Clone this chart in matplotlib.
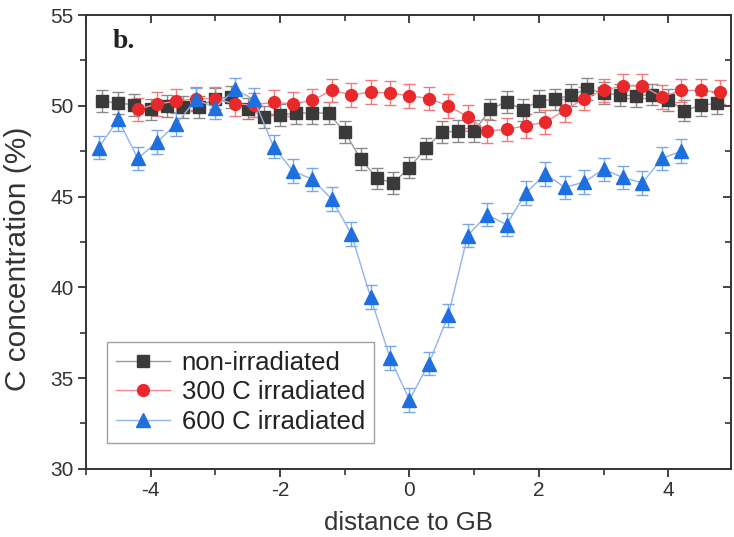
import numpy as np
import matplotlib
matplotlib.use("Agg")
import matplotlib.pyplot as plt
from matplotlib.ticker import MultipleLocator

# ---- data ----
x_non = [-4.75, -4.5, -4.25, -4.0, -3.75, -3.5, -3.25, -3.0, -2.75, -2.5, -2.25, -2.0, -1.75,
         -1.5, -1.25, -1.0, -0.75, -0.5, -0.25, 0.0, 0.25, 0.5, 0.75, 1.0, 1.25, 1.5, 1.75,
         2.0, 2.25, 2.5, 2.75, 3.0, 3.25, 3.5, 3.75, 4.0, 4.25, 4.5, 4.75]
y_non = [50.25, 50.15, 50.05, 49.8, 50.0, 49.95, 49.95, 50.4, 50.5, 49.85, 49.4, 49.5, 49.6,
         49.6, 49.6, 48.55, 47.05, 46.0, 45.75, 46.6, 47.65, 48.55, 48.6, 48.6, 49.8, 50.23, 49.78,
         50.27, 50.35, 50.6, 50.93, 50.7, 50.6, 50.55, 50.62, 50.32, 49.74, 50.02, 50.14]

x_300 = [-4.2, -3.9, -3.6, -3.3, -3.0, -2.7, -2.4, -2.1, -1.8, -1.5, -1.2, -0.9, -0.6, -0.3, 0.0,
         0.3, 0.6, 0.9, 1.2, 1.5, 1.8, 2.1, 2.4, 2.7, 3.0, 3.3, 3.6, 3.9, 4.2, 4.5, 4.8]
y_300 = [49.8, 50.1, 50.25, 50.4, 50.4, 50.1, 50.05, 50.2, 50.1, 50.3, 50.85, 50.6, 50.75, 50.7, 50.55,
         50.4, 50.0, 49.4, 48.6, 48.7, 48.9, 49.1, 49.75, 50.4, 50.85, 51.1, 51.1, 50.5, 50.85, 50.85, 50.75]

x_600 = [-4.8, -4.5, -4.2, -3.9, -3.6, -3.3, -3.0, -2.7, -2.4, -2.1, -1.8, -1.5, -1.2, -0.9, -0.6,
         -0.3, 0.0, 0.3, 0.6, 0.9, 1.2, 1.5, 1.8, 2.1, 2.4, 2.7, 3.0, 3.3, 3.6, 3.9, 4.2]
y_600 = [47.7, 49.25, 47.1, 48.0, 49.0, 50.35, 49.9, 50.9, 50.35, 47.75, 46.4, 45.95, 44.85, 42.95, 39.45,
         36.1, 33.8, 35.8, 38.45, 42.85, 44.0, 43.45, 45.2, 46.25, 45.5, 45.8, 46.5, 46.05, 45.75, 47.1, 47.5]

err_non = 0.6
err_300 = 0.65
err_600 = 0.65

labels = ["non-irradiated", "300 C irradiated", "600 C irradiated"]

# ---- figure ----
plt.rcParams['font.family'] = ['Liberation Sans', 'DejaVu Sans']
plt.rcParams['axes.unicode_minus'] = False
fig = plt.figure(figsize=(7.34, 5.37), dpi=100)
ax = fig.add_axes([0.117, 0.127, 0.879, 0.845])

series = [
    (x_non, y_non, err_non, 's', '#3a3a3a', '#9a9a9a', '#8a8a8a', labels[0]),
    (x_300, y_300, err_300, 'o', '#e8282b', '#f08a8c', '#f07a7c', labels[1]),
    (x_600, y_600, err_600, '^', '#1e6fe0', '#8fb4ee', '#7aa6ea', labels[2]),
]
for xs, ys, e, m, c, lc, ec, lab in series:
    ax.errorbar(xs, ys, yerr=e, fmt='none', ecolor=ec, elinewidth=1.0, capsize=4, capthick=1.0, zorder=2)
    ax.plot(xs, ys, '-', color=lc, lw=1.0, marker=m, markersize=8.5 if m != '^' else 9.5,
            markerfacecolor=c, markeredgecolor=c, label=lab, zorder=3)

ax.set_xlim(-5, 4.97)
ax.set_ylim(30, 55)
ax.xaxis.set_major_locator(MultipleLocator(2))
ax.xaxis.set_minor_locator(MultipleLocator(1))
ax.yaxis.set_major_locator(MultipleLocator(5))
ax.yaxis.set_minor_locator(MultipleLocator(2.5))

for sp in ax.spines.values():
    sp.set_linewidth(1.4)
    sp.set_color('#333333')

ax.tick_params(axis='both', which='major', direction='out', length=6, width=1.3,
               labelsize=15, colors='#333333', labelcolor='#333333', pad=3)
ax.tick_params(axis='both', which='minor', direction='out', length=4, width=1.2, colors='#333333')
ax.tick_params(axis='both', which='both', right=True, top=True)

# right/top ticks point inward
for t in ax.yaxis.get_major_ticks() + ax.yaxis.get_minor_ticks():
    t.tick2line.set_marker(matplotlib.lines.TICKLEFT)
for t in ax.xaxis.get_major_ticks() + ax.xaxis.get_minor_ticks():
    t.tick2line.set_marker(matplotlib.lines.TICKDOWN)

ax.set_xlabel("distance to GB", fontsize=18.5, color='#333333')
ax.set_ylabel("C concentration (%)", fontsize=21.5, color='#333333')
ax.xaxis.set_label_coords(0.5, -0.094)
ax.yaxis.set_label_coords(-0.083, 0.462)

ax.text(0.042, 0.927, "b.", transform=ax.transAxes, fontsize=20, fontweight='bold',
        family=['Liberation Serif', 'DejaVu Serif'], color='#222222', va='baseline')

leg = ax.legend(loc='lower left', bbox_to_anchor=(0.033, 0.057), fontsize=18.5, frameon=True,
                fancybox=False, edgecolor='#888888', handlelength=2.1, borderpad=0.35,
                labelspacing=0.22, handletextpad=0.45, borderaxespad=0)
leg.get_frame().set_linewidth(1.0)
for t in leg.get_texts():
    t.set_color('#222222')

fig.savefig("out.png", dpi=100)
